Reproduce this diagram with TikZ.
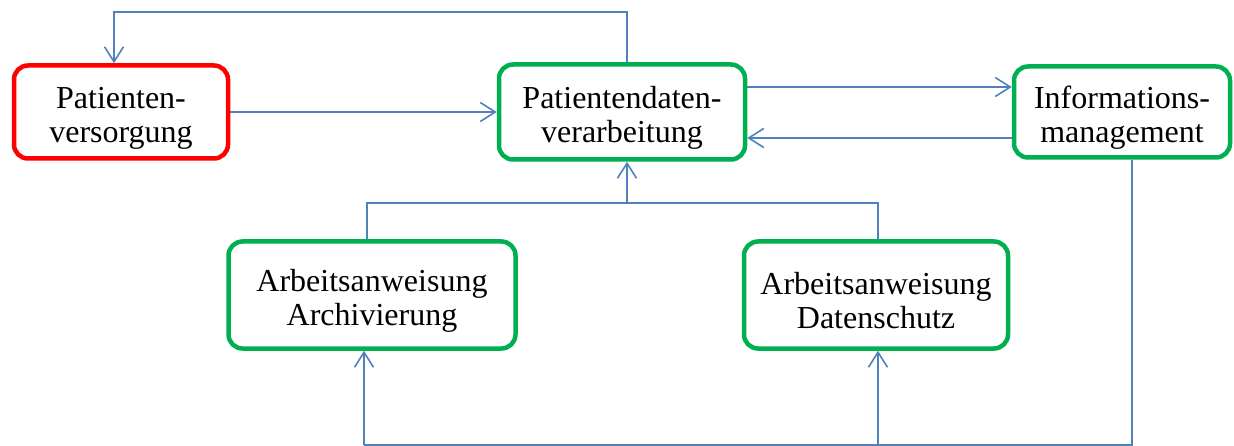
\documentclass[tikz,border=0pt]{standalone}
\usepackage{fontspec}
\setmainfont{Liberation Serif}
\usetikzlibrary{arrows.meta,calc}
\definecolor{lblue}{HTML}{4F81BD}
\definecolor{bgreen}{HTML}{00B050}
\definecolor{bred}{HTML}{FF0000}
\newcommand{\tstrut}{\rule{0pt}{34pt}}
\tikzset{
  box/.style={draw=bgreen, line width=4.5pt, rounded corners=14pt, fill=white,
    align=center, inner sep=0pt, font=\fontsize{32}{34}\selectfont},
  redbox/.style={box, draw=bred},
  conn/.style={draw=lblue, line width=1.8pt},
  arr/.style={conn, -{Straight Barb[length=15pt,width=19pt,line width=1.6pt]}},
}
\begin{document}
\begin{tikzpicture}[x=1pt,y=-1pt]
\useasboundingbox (0,0) rectangle (1234,446);
\node[redbox, minimum width=214pt, minimum height=93pt] (pv) at (121,112) {\tstrut Patienten-\\versorgung};
\node[box, minimum width=246pt, minimum height=95pt] (pd) at (622,112) {\tstrut Patientendaten-\\verarbeitung};
\node[box, minimum width=216pt, minimum height=91pt] (im) at (1122,112) {\tstrut Informations-\\management};
\node[box, minimum width=287pt, minimum height=107pt] (aa) at (372,295) {\tstrut Arbeitsanweisung\\Archivierung};
\node[box, minimum width=264pt, minimum height=107pt] (ad) at (876,295) {\tstrut Arbeitsanweisung\\Datenschutz};
% coordinates
\coordinate (t1) at (627,12);
\coordinate (t2) at (114,12);
\coordinate (yA) at (0,87);
\coordinate (yB) at (0,138);
\coordinate (m1) at (367,203);
\coordinate (m2) at (878,203);
\coordinate (mc) at (627,203);
\coordinate (b1) at (1132,445);
\coordinate (b2) at (364,445);
\coordinate (b3) at (878,445);
% connectors
\draw[arr] (pd.north -| t1) -- (t1) -- (t2) -- (pv.north -| t2);
\draw[arr] (pv.east) -- (pv.east -| pd.west);
\draw[arr] (pd.east |- yA) -- (im.west |- yA);
\draw[arr] (im.west |- yB) -- (pd.east |- yB);
\draw[conn] (aa.north -| m1) -- (m1) -- (m2) -- (ad.north -| m2);
\draw[arr] (mc) -- (pd.south -| mc);
\draw[conn] (im.south -| b1) -- (b1) -- (b2);
\draw[arr] (b2) -- (aa.south -| b2);
\draw[arr] (b3) -- (ad.south -| b3);
\end{tikzpicture}
\end{document}
